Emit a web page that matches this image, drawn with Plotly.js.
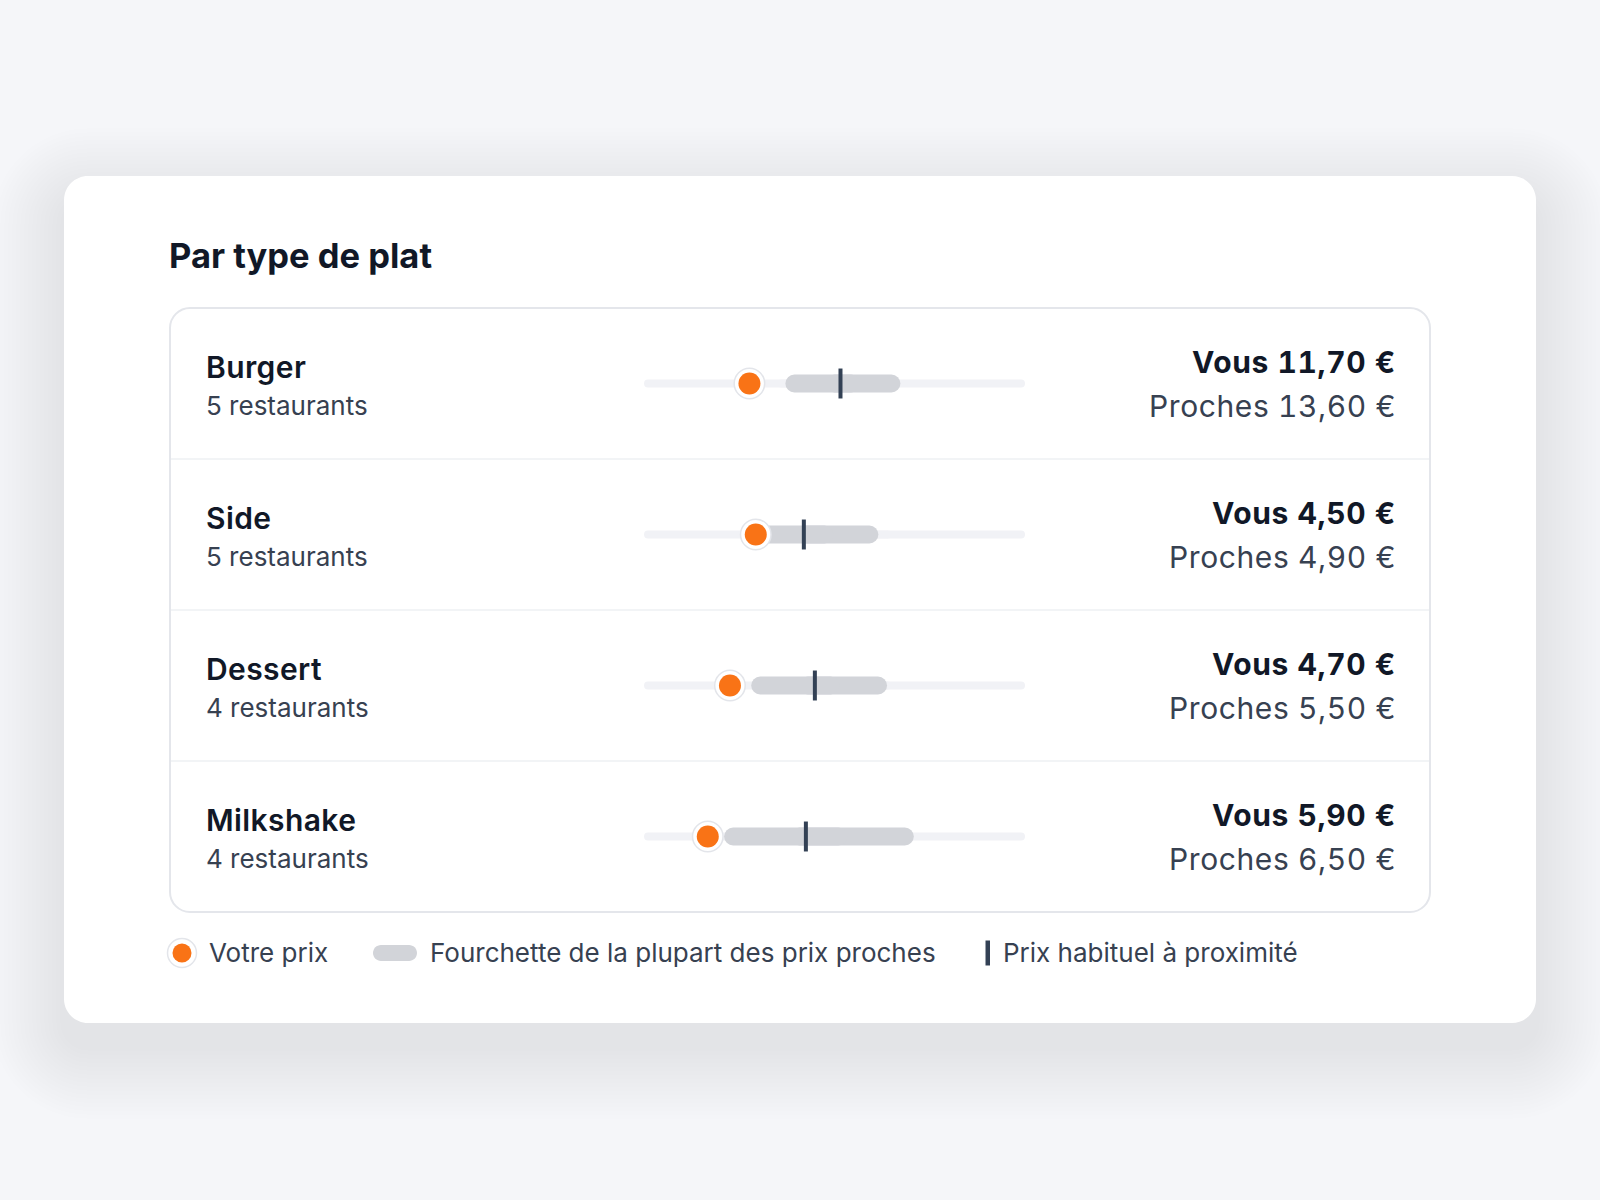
<!DOCTYPE html>
<html><head><meta charset="utf-8">
<script src="https://cdn.plot.ly/plotly-3.0.1.min.js"></script>
<style>html,body{margin:0;padding:0;background:#f5f6f9;}#chart{width:1600px;height:1200px;}</style>
</head><body><div id="chart"></div>
<script>
// ---- data ----
const chartTitle = 'Par type de plat';
const categories = ['Burger', 'Side', 'Dessert', 'Milkshake'];
const restaurantCounts = [5, 5, 4, 4];
const yourPrice = [11.70, 4.50, 4.70, 5.90];
const typicalPrice = [13.60, 4.90, 5.50, 6.50];
const rangeLow = [12.45, 4.45, 4.90, 6.00];
const rangeHigh = [14.85, 5.52, 6.18, 7.16];
const scaleMin = [9.50, 3.57, 3.89, 5.51];
const scaleMax = [17.45, 6.74, 7.48, 7.84];
const legendLabels = ['Votre prix', 'Fourchette de la plupart des prix proches', 'Prix habituel à proximité'];

// ---- geometry / style ----
const W = 1600, H = 1200;
const FONT = 'Inter, "Noto Sans", sans-serif';
const card = {x0: 64, y0: 176, x1: 1536, y1: 1023, r: 24};
const inner = {x0: 170, y0: 308, x1: 1430, y1: 912, r: 20};
const rowH = (inner.y1 - inner.y0) / categories.length;
const trackX0 = 644, trackX1 = 1025;
const C = {orange: '#f97316', track: '#f1f2f6', range: '#d2d4d9', tick: '#334155',
           dark: '#111827', sub: '#374151', border: '#e4e6eb', divider: '#eef0f3'};

const X = x => (x / W).toFixed(5);
const Y = y => (1 - y / H).toFixed(5);
function rr(x0, y0, x1, y1, r) {
  const k = 0.4477 * r;
  return `M${X(x0 + r)},${Y(y0)} L${X(x1 - r)},${Y(y0)} C${X(x1 - k)},${Y(y0)} ${X(x1)},${Y(y0 + k)} ${X(x1)},${Y(y0 + r)}` +
    ` L${X(x1)},${Y(y1 - r)} C${X(x1)},${Y(y1 - k)} ${X(x1 - k)},${Y(y1)} ${X(x1 - r)},${Y(y1)}` +
    ` L${X(x0 + r)},${Y(y1)} C${X(x0 + k)},${Y(y1)} ${X(x0)},${Y(y1 - k)} ${X(x0)},${Y(y1 - r)}` +
    ` L${X(x0)},${Y(y0 + r)} C${X(x0)},${Y(y0 + k)} ${X(x0 + k)},${Y(y0)} ${X(x0 + r)},${Y(y0)} Z`;
}
const fmt = v => v.toFixed(2).replace('.', ',') + '\u00a0€';
const styled = (t, css) => `<span style="${css}">${t}</span>`;

const traces = [];
const layout = {
  width: W, height: H, autosize: false,
  margin: {l: 0, r: 0, t: 0, b: 0, pad: 0},
  paper_bgcolor: '#f5f6f9', plot_bgcolor: 'rgba(0,0,0,0)',
  showlegend: false, barmode: 'overlay', hovermode: false,
  yaxis: {range: [H, 0], domain: [0, 1], visible: false, fixedrange: true, anchor: 'x'},
  shapes: [], annotations: []
};

// shadow + card
for (let i = 18; i >= 1; i--) {
  const e = i * 4;
  layout.shapes.push({type: 'path', xref: 'paper', yref: 'paper', layer: 'below',
    path: rr(card.x0 - e, card.y0 - e + 24, card.x1 + e, card.y1 + e + 24, card.r + e),
    fillcolor: 'rgba(55,60,75,0.0045)', line: {width: 0}});
}
layout.shapes.push({type: 'path', xref: 'paper', yref: 'paper', layer: 'below',
  path: rr(card.x0, card.y0, card.x1, card.y1, card.r), fillcolor: '#ffffff', line: {width: 0}});
layout.shapes.push({type: 'path', xref: 'paper', yref: 'paper', layer: 'below',
  path: rr(inner.x0, inner.y0, inner.x1, inner.y1, inner.r), fillcolor: '#ffffff', line: {color: C.border, width: 2}});
for (let i = 1; i < categories.length; i++) {
  const y = inner.y0 + rowH * i;
  layout.shapes.push({type: 'line', xref: 'paper', yref: 'paper', layer: 'below',
    x0: X(inner.x0 + 1), x1: X(inner.x1 - 1), y0: Y(y), y1: Y(y), line: {color: C.divider, width: 1.5}});
}

function ann(text, x, y, opts) {
  layout.annotations.push(Object.assign({text: text, xref: 'paper', yref: 'y', x: x / W, y: y,
    showarrow: false, xanchor: 'left', yanchor: 'middle', borderpad: 0, borderwidth: 0,
    font: {family: FONT, size: 26, color: C.sub}}, opts || {}));
}

ann(chartTitle, 169, 255, {font: {family: FONT, size: 34.5, color: C.dark, weight: 700}});

// pill drawn as two overlapping halves so that both outer ends are rounded
function pill(xa, yc, lo, hi, thick, color) {
  const d = (hi - lo) * 0.15, mid = (lo + hi) / 2;
  [[mid - d, hi], [mid + d, lo]].forEach(([b, end]) => traces.push({type: 'bar', orientation: 'h',
    xaxis: xa, yaxis: 'y', y: [yc], base: [b], x: [end - b], width: thick,
    marker: {color: color, cornerradius: thick / 2, line: {width: 0}}, hoverinfo: 'skip'}));
}

categories.forEach((cat, i) => {
  const ax = i === 0 ? '' : String(i + 1);
  const xa = 'x' + ax;
  layout['xaxis' + ax] = {domain: [trackX0 / W, trackX1 / W], range: [scaleMin[i], scaleMax[i]],
    anchor: 'y', visible: false, fixedrange: true};
  const yc = inner.y0 + rowH * (i + 0.5);
  pill(xa, yc, scaleMin[i], scaleMax[i], 8, C.track);
  pill(xa, yc, rangeLow[i], rangeHigh[i], 18, C.range);
  traces.push({type: 'scatter', mode: 'markers', xaxis: xa, yaxis: 'y', x: [typicalPrice[i]], y: [yc],
    cliponaxis: false, hoverinfo: 'skip',
    marker: {symbol: 'line-ns-open', size: 21.4, color: C.tick, line: {width: 4, color: C.tick}}});
  traces.push({type: 'scatter', mode: 'markers', xaxis: xa, yaxis: 'y', x: [yourPrice[i]], y: [yc],
    cliponaxis: false, hoverinfo: 'skip',
    marker: {symbol: 'circle', size: 30.5, color: '#ffffff', line: {width: 1.5, color: '#e3e5ea'}}});
  traces.push({type: 'scatter', mode: 'markers', xaxis: xa, yaxis: 'y', x: [yourPrice[i]], y: [yc],
    cliponaxis: false, hoverinfo: 'skip',
    marker: {symbol: 'circle', size: 22, color: C.orange, line: {width: 0}}});

  ann(styled(cat, 'letter-spacing:0.4px'), 206, yc - 17, {font: {family: FONT, size: 30, color: C.dark, weight: 600}});
  ann(restaurantCounts[i] + ' restaurants', 206, yc + 22, {font: {family: FONT, size: 26, color: C.sub}});
  const numCss = 'font-variant-numeric:tabular-nums;font-feature-settings:\'tnum\' 1;letter-spacing:0.6px';
  ann(styled('Vous ' + fmt(yourPrice[i]), numCss), 1396, yc - 21.5, {xanchor: 'right', font: {family: FONT, size: 30, color: C.dark, weight: 700}});
  ann(styled('Proches ' + fmt(typicalPrice[i]), numCss), 1396, yc + 22, {xanchor: 'right', font: {family: FONT, size: 30, color: C.sub}});
});

// legend
const ly = 953;
layout.shapes.push({type: 'circle', xref: 'paper', yref: 'paper', x0: X(182 - 14.5), x1: X(182 + 14.5),
  y0: Y(ly + 14.5), y1: Y(ly - 14.5), fillcolor: '#ffffff', line: {color: '#e3e5ea', width: 1.5}});
layout.shapes.push({type: 'circle', xref: 'paper', yref: 'paper', x0: X(182 - 9.5), x1: X(182 + 9.5),
  y0: Y(ly + 9.5), y1: Y(ly - 9.5), fillcolor: C.orange, line: {width: 0}});
layout.shapes.push({type: 'path', xref: 'paper', yref: 'paper',
  path: rr(373, ly - 8, 417, ly + 8, 8), fillcolor: C.range, line: {width: 0}});
layout.shapes.push({type: 'rect', xref: 'paper', yref: 'paper', x0: X(985.5), x1: X(990),
  y0: Y(ly - 12.5), y1: Y(ly + 12.5), fillcolor: C.tick, line: {width: 0}});
ann(legendLabels[0], 209, ly - 1);
ann(legendLabels[1], 430, ly - 1);
ann(legendLabels[2], 1003, ly - 1);

Plotly.newPlot('chart', traces, layout, {staticPlot: true, displayModeBar: false});
</script></body></html>
